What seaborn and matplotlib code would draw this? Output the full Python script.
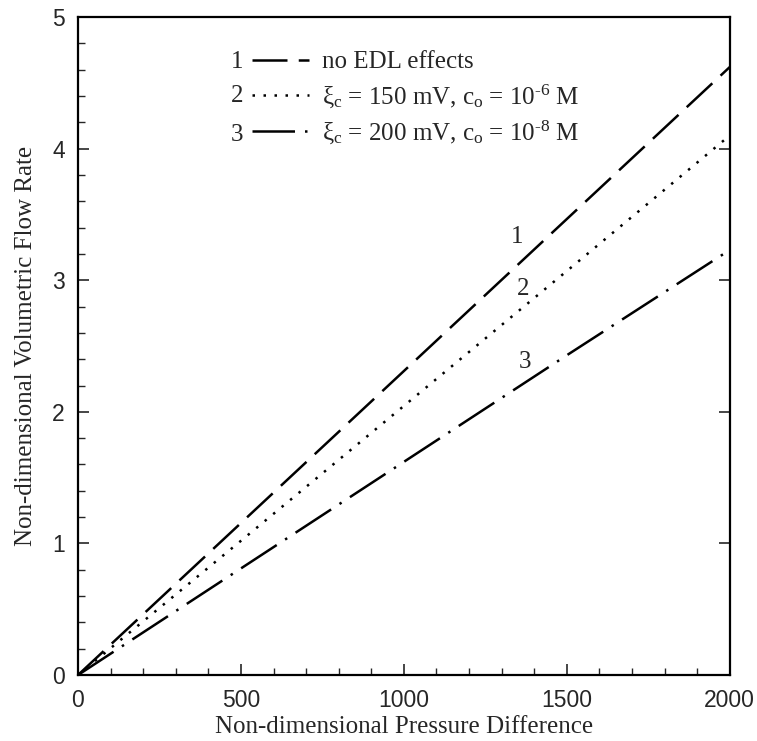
import matplotlib
matplotlib.use("Agg")
import matplotlib.pyplot as plt
import seaborn as sns
import pandas as pd

# data
pressure = [0, 500, 1000, 1500, 2000]
flow_no_edl = [0, 1.155, 2.31, 3.465, 4.62]
flow_150mv = [0, 1.02, 2.045, 3.07, 4.10]
flow_200mv = [0, 0.81, 1.62, 2.43, 3.23]

series_labels = [
    "no EDL effects",
    r"ξ$_{\rm c}$ = 150 mV, c$_{\rm o}$ = 10$^{\text{-6}}$ M",
    r"ξ$_{\rm c}$ = 200 mV, c$_{\rm o}$ = 10$^{\text{-8}}$ M",
]
series_numbers = ["1", "2", "3"]
x_ticks = [0, 500, 1000, 1500, 2000]
y_ticks = [0, 1, 2, 3, 4, 5]

sns.set_style("ticks")
plt.rcParams["font.family"] = ["Liberation Serif", "DejaVu Serif"]
plt.rcParams["mathtext.fontset"] = "custom"
plt.rcParams["mathtext.rm"] = "Liberation Serif"
plt.rcParams["mathtext.it"] = "Liberation Serif:italic"
plt.rcParams["mathtext.cal"] = "Liberation Serif"

df = pd.DataFrame({
    "x": pressure * 3,
    "y": flow_no_edl + flow_150mv + flow_200mv,
    "series": [series_labels[0]] * 5 + [series_labels[1]] * 5 + [series_labels[2]] * 5,
})

fig = plt.figure(figsize=(7.57, 7.41), dpi=100)
ax = fig.add_axes([0.103, 0.089, 0.861, 0.888])

dashes = {
    series_labels[0]: (14, 4.5),
    series_labels[1]: (1, 3.4),
    series_labels[2]: (17, 4, 1, 4),
}
sns.lineplot(data=df, x="x", y="y", style="series", dashes=dashes,
             color="black", linewidth=1.8, ax=ax, legend=True)

ax.set_xlim(0, 2000)
ax.set_ylim(0, 5)
ax.set_xticks(x_ticks)
ax.set_yticks(y_ticks)
ax.set_xticks(range(0, 2001, 100), minor=True)
ax.set_yticks([i * 0.2 for i in range(26)], minor=True)
ax.tick_params(which="major", direction="in", length=8, width=1.2,
               right=True, top=False, labelsize=16.5)
ax.tick_params(which="minor", direction="in", length=5, width=1.0,
               right=False, top=False)
for lab in ax.get_xticklabels() + ax.get_yticklabels():
    lab.set_fontfamily("Liberation Sans")
ax.tick_params(axis="x", pad=10)
ax.tick_params(axis="y", pad=9.5)
for sp in ax.spines.values():
    sp.set_linewidth(1.6)
    sp.set_color("black")

ax.set_xlabel("Non-dimensional Pressure Difference", fontsize=18, labelpad=3)
ax.set_ylabel("Non-dimensional Volumetric Flow Rate", fontsize=18, labelpad=11)

handles, labels = ax.get_legend_handles_labels()
leg = ax.legend(handles, labels, loc="center left", bbox_to_anchor=(0.267, 0.876),
                frameon=False, fontsize=18, handlelength=2.3, handletextpad=0.5,
                borderpad=0, borderaxespad=0, labelspacing=0.35)
for i, ypos in enumerate([0.932, 0.880, 0.820]):
    ax.text(0.244, ypos, series_numbers[i], transform=ax.transAxes,
            ha="center", va="center", fontsize=18)

# line labels
ax.text(1347, 3.33, "1", ha="center", va="center", fontsize=18)
ax.text(1365, 2.93, "2", ha="center", va="center", fontsize=18)
ax.text(1371, 2.38, "3", ha="center", va="center", fontsize=18)

fig.savefig("out.png", dpi=100)
